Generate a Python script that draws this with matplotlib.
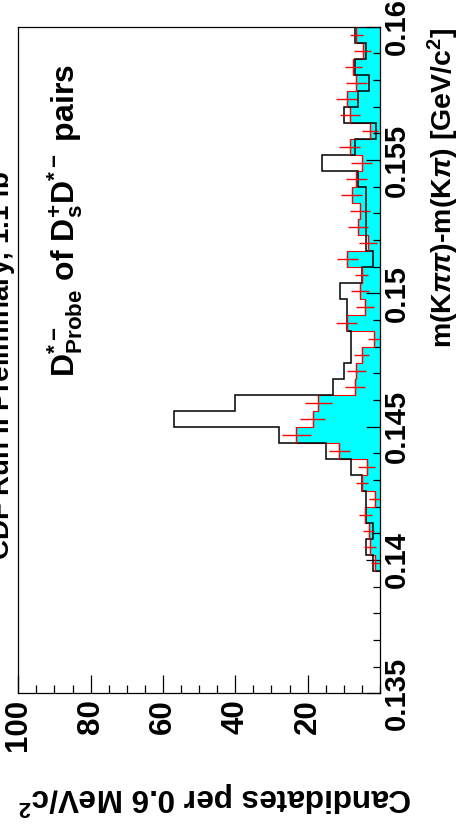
import numpy as np
import matplotlib
matplotlib.use("Agg")
from matplotlib import pyplot as plt
from matplotlib.ticker import MultipleLocator, FixedLocator, FixedFormatter

plt.rcParams['font.family'] = ['Liberation Sans', 'DejaVu Sans']
plt.rcParams['font.weight'] = 'bold'
plt.rcParams['mathtext.fontset'] = 'custom'
plt.rcParams['mathtext.rm'] = 'Liberation Sans:bold'
plt.rcParams['mathtext.bf'] = 'Liberation Sans:bold'
plt.rcParams['mathtext.it'] = 'Liberation Sans:italic:bold'
plt.rcParams['mathtext.sf'] = 'Liberation Sans:bold'

# m(K pi pi) - m(K pi) bins, 0.6 MeV wide, low mass first
edges = np.round(np.arange(0.1396, 0.16001, 0.0006), 5)

# black histogram (data)
data_counts = [2, 4, 2, 4, 4, 5, 8, 15, 28, 57, 40, 13, 10, 8, 8, 9, 9,
               11, 5, 2, 4, 4, 4, 4, 6, 16, 7, 1, 10, 6, 3, 7, 4, 7]
# cyan histogram with red error bars
bkg_counts = [1.3, 2.8, 3.1, 4.1, 1.5, 4.9, 3.7, 11.2, 23.2, 18.6, 17.1, 6.9,
              6.5, 5.1, 1.6, 9.2, 4.1, 5.5, 5.1, 9.0, 3.2, 6.0, 5.5, 7.8,
              6.5, 5.1, 8.3, 2.8, 8.3, 9.2, 6.5, 7.4, 4.8, 6.5]
bkg_err = [1.3, 1.6, 1.5, 1.8, 1.6, 1.6, 2.3, 2.8, 4.0, 3.5, 3.7, 2.7, 2.5,
           2.0, 1.6, 2.9, 2.4, 2.5, 1.7, 2.8, 2.5, 2.8, 2.8, 2.9, 2.8, 2.8,
           2.9, 2.3, 2.8, 3.0, 3.0, 2.3, 2.3, 1.8]

mass_ticks = [0.135, 0.14, 0.145, 0.15, 0.155, 0.16]
mass_labels = ["0.135", "0.14", "0.145", "0.15", "0.155", "0.16"]
count_ticks = [20, 40, 60, 80, 100]
count_labels = ["20", "40", "60", "80", "100"]

W, H = 459, 831
fig = plt.figure(figsize=(W / 100, H / 100), dpi=100)
ax = fig.add_axes([18.3 / W, 1 - 693.3 / H, (380 - 18.3) / W, (693.3 - 26.7) / H])

centers = 0.5 * (edges[:-1] + edges[1:])

ax.stairs(bkg_counts, edges, orientation='horizontal', baseline=0, fill=True,
          color='#00ffff', zorder=1)
ax.stairs(bkg_counts, edges, orientation='horizontal', baseline=0,
          color='red', lw=0.8, zorder=2)
ax.stairs(data_counts, edges, orientation='horizontal', baseline=0,
          color='black', lw=1.1, zorder=3)
ax.errorbar(bkg_counts, centers, xerr=bkg_err, yerr=0.0003, fmt='none',
            ecolor='red', elinewidth=1.0, capsize=0, zorder=4)

ax.set_xlim(100, 0)
ax.set_ylim(0.135, 0.16)

for s in ax.spines.values():
    s.set_linewidth(0.9)

ax.xaxis.set_major_locator(FixedLocator(count_ticks))
ax.xaxis.set_major_formatter(FixedFormatter(count_labels))
ax.xaxis.set_minor_locator(MultipleLocator(5))
ax.yaxis.tick_right()
ax.yaxis.set_major_locator(FixedLocator(mass_ticks))
ax.yaxis.set_major_formatter(FixedFormatter(mass_labels))
ax.yaxis.set_minor_locator(MultipleLocator(0.001))

ax.tick_params(axis='x', which='both', direction='in', top=False, bottom=True,
               labelsize=22.5, labelrotation=90, pad=4, width=0.9)
ax.tick_params(axis='x', which='major', length=13)
ax.tick_params(axis='x', which='minor', length=6)
ax.tick_params(axis='y', which='both', direction='in', left=False, right=True,
               labelsize=21, labelrotation=90, pad=2, width=0.9)
ax.tick_params(axis='y', which='major', length=10)
ax.tick_params(axis='y', which='minor', length=5)
for lab in ax.get_xticklabels():
    lab.set_fontweight('bold')
for lab in ax.get_yticklabels():
    lab.set_fontweight('bold')
    lab.set_verticalalignment('center')

fig.text(443 / W, 1 - 28 / H, r"m(K$\pi\pi$)-m(K$\pi$) [GeV/c$^{2}$]",
         rotation=90, ha='center', va='top', fontsize=20.5, fontweight='bold')
fig.text(215 / W, 1 - 798 / H, r"Candidates per 0.6 MeV/c$^{2}$",
         rotation=180, ha='center', va='center', fontsize=22.7, fontweight='bold')
fig.text(65 / W, 1 - 377 / H,
         r"D$^{*-}_{\rm Probe}$ of D$_{\rm s}^{+}$D$^{*-}$ pairs",
         rotation=90, ha='center', va='bottom', fontsize=23, fontweight='bold')
fig.text(1 / W, 1 - 560 / H, r"CDF Run II Preliminary, 1.1 fb$^{-1}$",
         rotation=90, ha='center', va='bottom', fontsize=20, fontweight='bold')

fig.savefig("out.png", dpi=100)
